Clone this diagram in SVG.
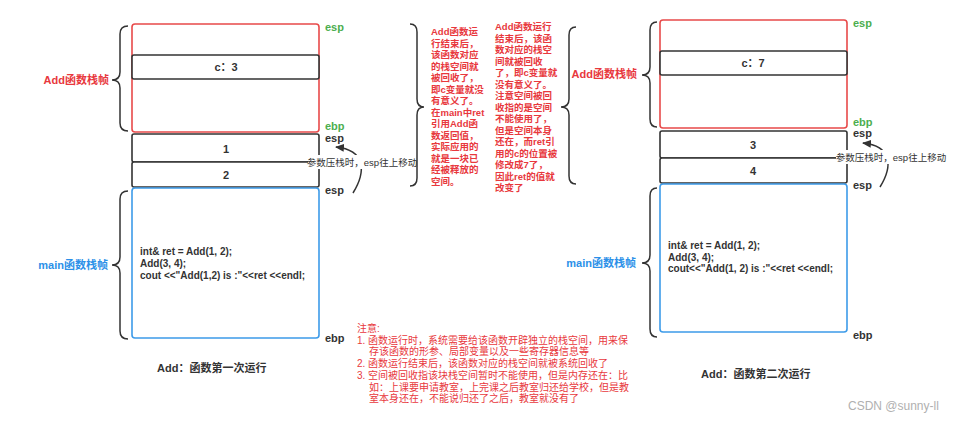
<svg xmlns="http://www.w3.org/2000/svg" width="961" height="422" viewBox="0 0 961 422">
<style>
text{font-family:"Liberation Sans","Noto Sans CJK SC",sans-serif}
.frame-red{fill:none;stroke:#e84a4a;stroke-width:1.6}
.frame-blue{fill:none;stroke:#3d9be9;stroke-width:1.6}
.cell{fill:#fff;stroke:#333;stroke-width:1.6}
.brace{fill:none;stroke:#333;stroke-width:1.5}
.lbl-red{fill:#e8383d;font-size:11px;font-weight:bold}
.lbl-blue{fill:#2b90e8;font-size:11px;font-weight:bold}
.reg-green{fill:#4cae4f;font-size:11px;font-weight:bold}
.reg{fill:#333;font-size:11px;font-weight:bold}
.val{fill:#333;font-size:11px;font-weight:bold;text-anchor:middle}
.code{fill:#333;font-size:10px;font-weight:bold}
.cap{fill:#333;font-size:11px;font-weight:bold}
.note{fill:#e8383d;font-size:9.5px;font-weight:bold}
.warn{fill:#e8383d;font-size:10px}
.arrlbl{fill:#333;font-size:9.5px;text-anchor:middle}
.conn{fill:none;stroke:#333;stroke-width:1.5}
</style>
<defs>
<marker id="ah" markerWidth="9" markerHeight="8" refX="8" refY="4" orient="auto" markerUnits="userSpaceOnUse">
<path d="M0,0 L9,4 L0,8 Z" fill="#333"/>
</marker>
</defs>
<rect width="961" height="422" fill="#fff"/>

<!-- Left diagram -->
<g id="left-add-frame">
<rect class="frame-red" x="132" y="24" width="187" height="108" rx="3"/>
<path class="brace" d="M128,26 Q120,26 120,34 L120,72 Q120,80 112,80 Q120,80 120,88 L120,123 Q120,131 128,131"/>
<text class="lbl-red" x="109" y="84" text-anchor="end">Add函数栈帧</text>
<text class="reg-green" x="325" y="31">esp</text>
<text class="reg-green" x="325" y="130">ebp</text>
</g>
<g id="left-c">
<rect class="cell" x="132" y="55" width="187" height="24" rx="2"/>
<text class="val" x="226" y="71">c：3</text>
</g>
<g id="left-p1">
<rect class="cell" x="132" y="134" width="187" height="28" rx="2"/>
<text class="val" x="226" y="153">1</text>
<text class="reg" x="325" y="142">esp</text>
</g>
<g id="left-p2">
<rect class="cell" x="132" y="162" width="187" height="25" rx="2"/>
<text class="val" x="226" y="179">2</text>
</g>
<g id="left-main-frame">
<rect class="frame-blue" x="132" y="188" width="187" height="150" rx="3"/>
<path class="brace" d="M128,191 Q120,191 120,199 L120,257 Q120,265 112,265 Q120,265 120,273 L120,331 Q120,339 128,339"/>
<text class="lbl-blue" x="108" y="269" text-anchor="end">main函数栈帧</text>
<text class="code" x="140" y="255">int&amp; ret = Add(1, 2);</text>
<text class="code" x="140" y="267">Add(3, 4);</text>
<text class="code" x="140" y="279">cout &lt;&lt;"Add(1,2) is :"&lt;&lt;ret &lt;&lt;endl;</text>
<text class="reg" x="325" y="194">esp</text>
<text class="reg" x="325" y="342">ebp</text>
</g>
<g id="left-caption">
<text class="cap" x="157" y="372">Add：函数第一次运行</text>
</g>

<!-- Right diagram -->
<g id="right-add-frame">
<rect class="frame-red" x="660" y="20" width="187" height="108" rx="3"/>
<path class="brace" d="M657,22 Q650,22 650,30 L650,67 Q650,75 642,75 Q650,75 650,83 L650,119 Q650,127 657,127"/>
<text class="lbl-red" x="637" y="78" text-anchor="end">Add函数栈帧</text>
<text class="reg-green" x="853" y="27">esp</text>
<text class="reg-green" x="853" y="126">ebp</text>
</g>
<g id="right-c">
<rect class="cell" x="660" y="51" width="187" height="24" rx="2"/>
<text class="val" x="753" y="67">c：7</text>
</g>
<g id="right-p1">
<rect class="cell" x="660" y="131" width="187" height="27" rx="2"/>
<text class="val" x="753" y="149">3</text>
<text class="reg" x="853" y="137">esp</text>
</g>
<g id="right-p2">
<rect class="cell" x="660" y="158" width="187" height="25" rx="2"/>
<text class="val" x="753" y="175">4</text>
</g>
<g id="right-main-frame">
<rect class="frame-blue" x="660" y="184" width="187" height="148" rx="3"/>
<path class="brace" d="M657,188 Q650,188 650,196 L650,255 Q650,263 642,263 Q650,263 650,271 L650,329 Q650,337 657,337"/>
<text class="lbl-blue" x="636" y="267" text-anchor="end">main函数栈帧</text>
<text class="code" x="668" y="249">int&amp; ret = Add(1, 2);</text>
<text class="code" x="668" y="261">Add(3, 4);</text>
<text class="code" x="668" y="272">cout&lt;&lt;"Add(1, 2) is :"&lt;&lt;ret &lt;&lt;endl;</text>
<text class="reg" x="853" y="189">esp</text>
<text class="reg" x="853" y="339">ebp</text>
</g>
<g id="right-caption">
<text class="cap" x="701" y="378">Add：函数第二次运行</text>
</g>

<!-- Middle notes -->
<g id="mid-brace-left">
<path class="brace" d="M410,24 Q417,24 417,32 L417,99 Q417,107 424,107 Q417,107 417,115 L417,178 Q417,186 410,186"/>
</g>
<g id="mid-note-1">
<text class="note" x="431" y="35">Add函数运</text>
<text class="note" x="431" y="46.5">行结束后，</text>
<text class="note" x="431" y="58">该函数对应</text>
<text class="note" x="431" y="69.5">的栈空间就</text>
<text class="note" x="431" y="81">被回收了，</text>
<text class="note" x="431" y="92.5">即c变量就没</text>
<text class="note" x="431" y="104">有意义了。</text>
<text class="note" x="431" y="115.5">在main中ret</text>
<text class="note" x="431" y="127">引用Add函</text>
<text class="note" x="431" y="138.5">数返回值，</text>
<text class="note" x="431" y="150">实际应用的</text>
<text class="note" x="431" y="161.5">就是一块已</text>
<text class="note" x="431" y="173">经被释放的</text>
<text class="note" x="431" y="184.5">空间。</text>
</g>
<g id="mid-note-2">
<text class="note" x="495" y="30">Add函数运行</text>
<text class="note" x="495" y="41.5">结束后，该函</text>
<text class="note" x="495" y="53">数对应的栈空</text>
<text class="note" x="495" y="64.5">间就被回收</text>
<text class="note" x="495" y="76">了，即c变量就</text>
<text class="note" x="495" y="87.5">没有意义了。</text>
<text class="note" x="495" y="99">注意空间被回</text>
<text class="note" x="495" y="110.5">收指的是空间</text>
<text class="note" x="495" y="122">不能使用了，</text>
<text class="note" x="495" y="133.5">但是空间本身</text>
<text class="note" x="495" y="145">还在，而ret引</text>
<text class="note" x="495" y="156.5">用的c的位置被</text>
<text class="note" x="495" y="168">修改成7了，</text>
<text class="note" x="495" y="179.5">因此ret的值就</text>
<text class="note" x="495" y="191">改变了</text>
</g>
<g id="mid-brace-right">
<path class="brace" d="M576,27 Q569,27 569,35 L569,99 Q569,107 561,107 Q569,107 569,115 L569,176 Q569,184 576,184"/>
</g>

<!-- Bottom warning -->
<g id="warning">
<text class="warn" x="357" y="331.5">注意:</text>
<text class="warn" x="357" y="343.5">1. 函数运行时，系统需要给该函数开辟独立的栈空间，用来保</text>
<text class="warn" x="369" y="355">存该函数的形参、局部变量以及一些寄存器信息等</text>
<text class="warn" x="357" y="366.5">2. 函数运行结束后，该函数对应的栈空间就被系统回收了</text>
<text class="warn" x="357" y="379">3. 空间被回收指该块栈空间暂时不能使用，但是内存还在：比</text>
<text class="warn" x="369" y="390.5">如：上课要申请教室，上完课之后教室归还给学校，但是教</text>
<text class="warn" x="369" y="402">室本身还在，不能说归还了之后，教室就没有了</text>
</g>

<!-- Connectors -->
<g id="connectors">
<path class="conn" d="M353,193 C366,172 366,150 336,147" marker-end="url(#ah)"/>
<rect x="308" y="155" width="108" height="14" fill="#fff"/>
<text class="arrlbl" x="362" y="165.5">参数压栈时，esp往上移动</text>
<path class="conn" d="M880,187 C893,166 892,146 863,143" marker-end="url(#ah)"/>
<rect x="836" y="150" width="110" height="14" fill="#fff"/>
<text class="arrlbl" x="891" y="160.5">参数压栈时，esp往上移动</text>
</g>

<text x="848" y="410" fill="#b0b0b0" font-size="12">CSDN @sunny-ll</text>
</svg>
